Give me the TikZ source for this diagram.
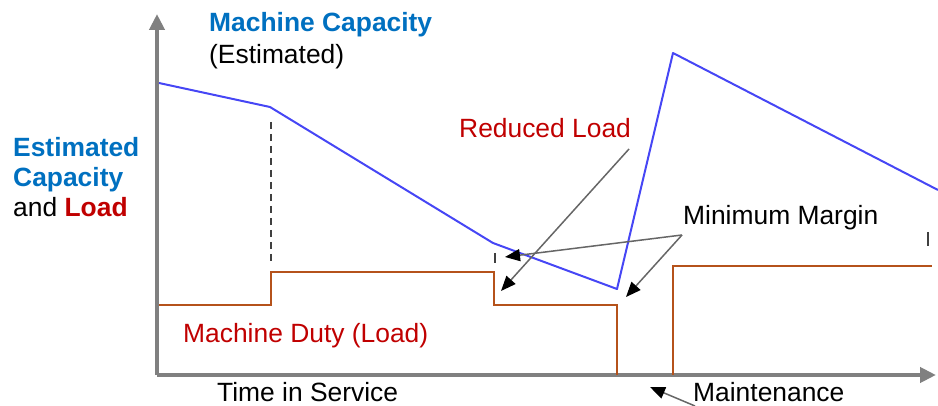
\documentclass[tikz,border=0pt]{standalone}
\usepackage{fontspec}
\setmainfont{Liberation Sans}
\usetikzlibrary{arrows.meta}
\definecolor{capblue}{HTML}{4646F5}
\definecolor{loadbrown}{HTML}{B5521B}
\definecolor{lblblue}{HTML}{0070C0}
\definecolor{lblred}{HTML}{C00000}
\definecolor{axisgray}{HTML}{808080}
\tikzset{
  lbl/.style={anchor=base west, inner sep=0pt, font=\fontsize{26.4}{31}\selectfont},
  boldlbl/.style={lbl, text=lblblue, font=\fontsize{26.4}{31}\selectfont\bfseries},
  axisline/.style={draw=axisgray, line width=4pt, -{Triangle[length=16pt,width=15pt]}},
  capline/.style={draw=capblue, line width=2pt, line join=round},
  loadline/.style={draw=loadbrown, line width=2.2pt},
  callout/.style={draw=black!60, line width=1.5pt, -{Triangle[length=15pt,width=12pt,color=black]}},
  guide/.style={draw=black!75, line width=1.5pt, dash pattern=on 7pt off 5pt},
  tick/.style={draw=black!75, line width=1.8pt}
}
\begin{document}
\begin{tikzpicture}[x=1pt,y=-1pt]
\useasboundingbox (0,0) rectangle (938,406);
% axes
\coordinate (O) at (157,375);
\coordinate (ytip) at (157,14);
\coordinate (xtip) at (936,375);
\draw[axisline] (O) -- (ytip);
\draw[axisline] (O) -- (xtip);
% capacity curve
\coordinate (c0) at (159,83);
\coordinate (c1) at (270,107);
\coordinate (c2) at (493,243);
\coordinate (c3) at (617,289);
\coordinate (c4) at (673,53);
\coordinate (c5) at (938,190);
\draw[capline] (c0) -- (c1) -- (c2) -- (c3) -- (c4) -- (c5);
% load
\coordinate (l0) at (159,305);
\coordinate (l1) at (271,305);
\coordinate (l2) at (271,272);
\coordinate (l3) at (494,272);
\coordinate (l4) at (494,305);
\coordinate (l5) at (617,305);
\coordinate (l6) at (617,375);
\coordinate (l7) at (673,375);
\coordinate (l8) at (673,266);
\coordinate (l9) at (932,266);
\draw[loadline] (l0) -- (l1) -- (l2) -- (l3) -- (l4) -- (l5) -- (l6);
\draw[loadline] (l7) -- (l8) -- (l9);
% dashed guide and ticks
\coordinate (g0) at (271,122);
\coordinate (g1) at (271,262);
\draw[guide] (g0) -- (g1);
\coordinate (t0) at (495,253);
\coordinate (t1) at (495,263);
\draw[tick] (t0) -- (t1);
\coordinate (t2) at (928,232);
\coordinate (t3) at (928,246);
\draw[tick] (t2) -- (t3);
% labels
\node[boldlbl] (mc) at (209,32) {Machine Capacity};
\node[lbl] (est) at (209,64) {(Estimated)};
\node[boldlbl] (ec1) at (13,157) {Estimated};
\node[boldlbl] (ec2) at (13,187) {Capacity};
\node[lbl] (ec3) at (13,217) {and \textcolor{lblred}{\bfseries Load}};
\node[lbl, text=lblred] (rl) at (459,138) {Reduced Load};
\node[lbl] (mm) at (683,225) {Minimum Margin};
\node[lbl, text=lblred] (md) at (183,343) {Machine Duty (Load)};
\node[lbl] (ts) at (217,401) {Time in Service};
\node[lbl] (mt) at (693,401) {Maintenance};
% callouts
\coordinate (rls) at (629,149);
\coordinate (rlt) at (501,291);
\coordinate (mms) at (682,235);
\coordinate (mmt1) at (505,257);
\coordinate (mmt2) at (626,297);
\coordinate (mts) at (695,406);
\coordinate (mtt) at (650,387);
\draw[callout] (rls) -- (rlt);
\draw[callout] (mms) -- (mmt1);
\draw[callout] (mms) -- (mmt2);
\draw[callout] (mts) -- (mtt);
\end{tikzpicture}
\end{document}
